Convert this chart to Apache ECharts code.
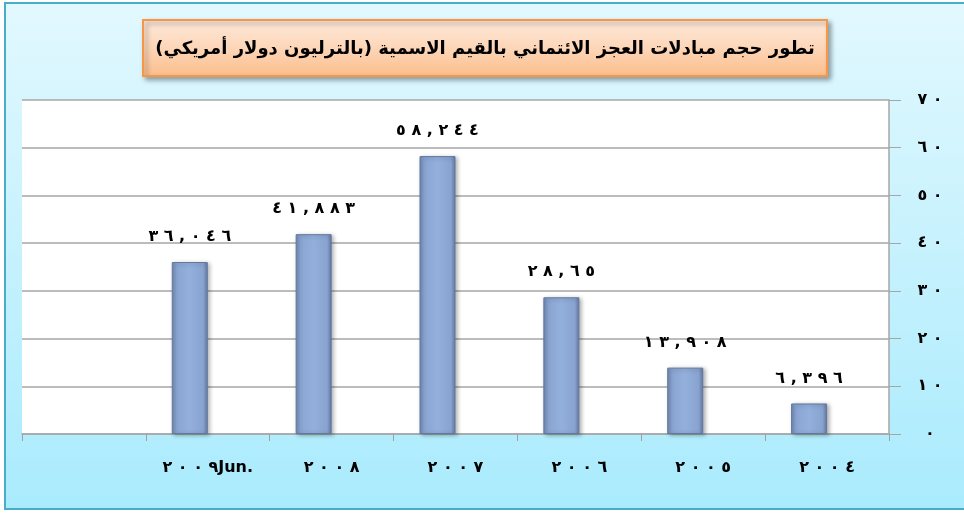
<!DOCTYPE html>
<html>
<head>
<meta charset="utf-8">
<script src="https://cdn.jsdelivr.net/npm/echarts@6/dist/echarts.min.js"></script>
<style>
html,body{margin:0;padding:0;background:#fff;}
#c{width:964px;height:513px;}
</style>
</head>
<body>
<div id="c"></div>
<script>
// ---- data ----
var titleText = 'تطور حجم مبادلات العجز الائتماني بالقيم الاسمية (بالترليون دولار أمريكي)';
var categories = ['', '٢٠٠٩Jun.', '٢٠٠٨', '٢٠٠٧', '٢٠٠٦', '٢٠٠٥', '٢٠٠٤'];
var values = [null, 36.046, 41.883, 58.244, 28.65, 13.908, 6.396];
var emptySeries = [null, null, null, null, null, null, null];
var yTicks = ['٠', '١٠', '٢٠', '٣٠', '٤٠', '٥٠', '٦٠', '٧٠'];

// ---- helpers (rendering only) ----
var AR = '٠١٢٣٤٥٦٧٨٩';
function toArabic(s) {
  return String(s).replace(/[0-9]/g, function (d) { return AR[+d]; });
}
// spread Arabic-Indic digits apart while keeping their order (LRM before each gap)
function spread(s) {
  var out = '';
  var chars = Array.from(s);
  for (var i = 0; i < chars.length; i++) {
    out += chars[i];
    var isDigit = /[٠-٩,]/.test(chars[i]);
    var nextDigit = i + 1 < chars.length && /[٠-٩,]/.test(chars[i + 1]);
    if (isDigit && nextDigit) out += '\u200E ';
  }
  return out;
}

var chart = echarts.init(document.getElementById('c'), null, {renderer: 'canvas'});
var FONT = 'DejaVu Sans';

var option = {
  backgroundColor: '#ffffff',
  animation: false,
  graphic: {
    elements: [
      {
        type: 'rect', z: -100, silent: true,
        shape: {x: 5, y: 3, width: 1000, height: 506},
        style: {
          fill: {type: 'linear', x: 0, y: 0, x2: 0, y2: 1,
            colorStops: [{offset: 0, color: '#e2f8fe'}, {offset: 1, color: '#a9ebfd'}]},
          stroke: '#4bacc6', lineWidth: 2
        }
      },
      {
        type: 'rect', z: 100, silent: true,
        shape: {x: 143, y: 20, width: 684, height: 56},
        style: {
          fill: {type: 'linear', x: 0, y: 0, x2: 0, y2: 1,
            colorStops: [{offset: 0, color: '#fde9da'}, {offset: 0.5, color: '#fdd6b8'}, {offset: 1, color: '#fbbd8a'}]},
          stroke: '#f79646', lineWidth: 2,
          shadowColor: 'rgba(0,0,0,0.35)', shadowBlur: 5, shadowOffsetX: 3, shadowOffsetY: 3
        }
      },
      {
        type: 'text', z: 101, silent: true,
        x: 485, y: 49,
        style: {
          text: titleText + '\u200F',
          fill: '#000', font: 'bold 18px "' + FONT + '"',
          align: 'center', verticalAlign: 'middle'
        }
      }
    ]
  },
  grid: {
    left: 22, right: 75, top: 100, bottom: 79,
    show: true, backgroundColor: '#ffffff', borderWidth: 0
  },
  xAxis: {
    type: 'category',
    data: categories,
    axisLine: {lineStyle: {color: '#a6a6a6', width: 1.5}},
    axisTick: {show: true, length: 7, lineStyle: {color: '#a0a0a0'}, interval: 0},
    axisLabel: {
      interval: 0, margin: 26,
      color: '#000', fontFamily: FONT, fontWeight: 'bold', fontSize: 16,
      formatter: function (v) { return spread(v); }
    }
  },
  yAxis: {
    type: 'value', position: 'right',
    min: 0, max: 70, interval: 10,
    axisLine: {show: true, lineStyle: {color: '#a6a6a6', width: 1.5}},
    axisTick: {show: true, length: 12, lineStyle: {color: '#a6a6a6'}},
    splitLine: {lineStyle: {color: '#a6a6a6', width: 1.5}},
    axisLabel: {
      margin: 41, align: 'center',
      color: '#000', fontFamily: FONT, fontWeight: 'bold', fontSize: 16,
      formatter: function (v) { return spread(yTicks[Math.round(v / 10)]); }
    }
  },
  series: [
    {
      type: 'bar', data: values, barWidth: 36, barGap: '0%',
      itemStyle: {
        color: {type: 'linear', x: 0, y: 0, x2: 1, y2: 0,
          colorStops: [
            {offset: 0, color: '#6f87b2'},
            {offset: 0.13, color: '#8aa5d2'},
            {offset: 0.5, color: '#93afdc'},
            {offset: 0.87, color: '#88a3cf'},
            {offset: 1, color: '#637aa3'}
          ]},
        borderColor: '#61789f', borderWidth: 1,
        shadowColor: 'rgba(0,0,0,0.3)', shadowBlur: 4, shadowOffsetX: 2, shadowOffsetY: 1
      },
      label: {
        show: true, position: 'top', distance: 17,
        color: '#000', fontFamily: FONT, fontWeight: 'bold', fontSize: 16,
        formatter: function (p) {
          return spread(toArabic(String(p.value).replace('.', ',')));
        }
      }
    },
    {
      type: 'bar', data: emptySeries, barWidth: 36, barGap: '0%'
    }
  ]
};
chart.setOption(option);
</script>
</body>
</html>
